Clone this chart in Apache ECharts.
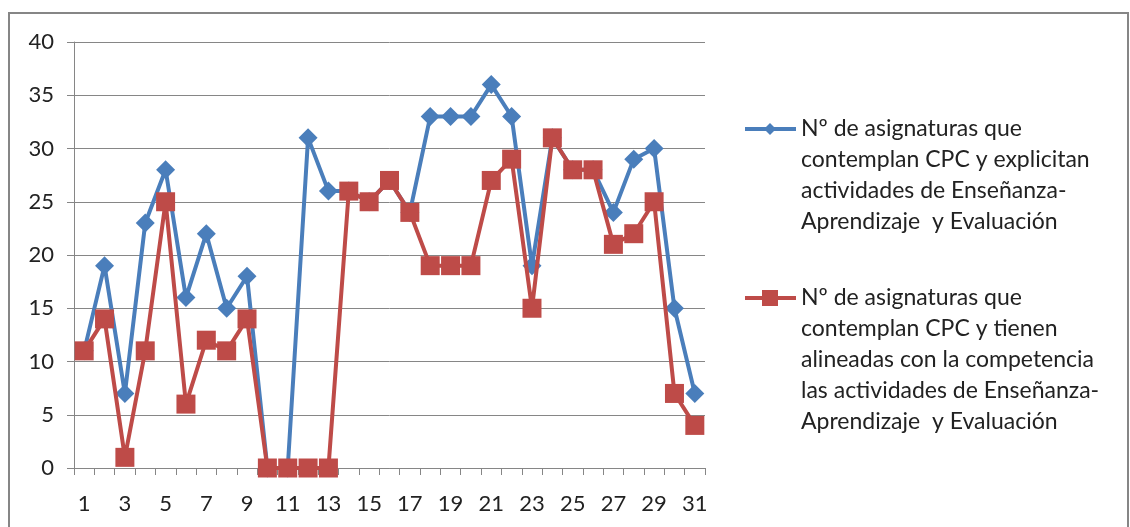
<!DOCTYPE html>
<html>
<head>
<meta charset="utf-8">
<style>
  html, body { margin: 0; padding: 0; background: #fff; }
  #chart { width: 1130px; height: 527px; }
</style>
<script src="https://cdn.jsdelivr.net/npm/echarts@6/dist/echarts.min.js"></script>
</head>
<body>
<div id="chart"></div>
<script>
// Course numbers along the horizontal axis
const categories = Array.from({ length: 31 }, (_, i) => String(i + 1));

// Series names (legend text, wrapped as shown)
const nameExplicit = 'Nº de asignaturas que\ncontemplan CPC y explicitan\nactividades de Enseñanza-\nAprendizaje  y Evaluación';
const nameAligned = 'Nº de asignaturas que\ncontemplan CPC y tienen\nalineadas con la competencia\nlas actividades de Enseñanza-\nAprendizaje  y Evaluación';

// Values per course
const explicitValues = [11, 19, 7, 23, 28, 16, 22, 15, 18, 0, 0, 31, 26, 26, 25, 27, 24, 33, 33, 33, 36, 33, 19, 31, 28, 28, 24, 29, 30, 15, 7];
const alignedValues  = [11, 14, 1, 11, 25, 6, 12, 11, 14, 0, 0, 0, 0, 26, 25, 27, 24, 19, 19, 19, 27, 29, 15, 31, 28, 28, 21, 22, 25, 7, 4];

const BLUE = '#4A7EBB';
const RED = '#BE4B48';
const GRAY = '#868686';
const FONT = 'Lato';

const chart = echarts.init(document.getElementById('chart'), null, { renderer: 'canvas' });

// Legend drawn as graphic entries so the key sits beside the first text line
function legendEntry(midY, color, symbol, text) {
  return [
    { type: 'line', shape: { x1: 745, y1: midY, x2: 796, y2: midY }, style: { stroke: color, lineWidth: 4 } },
    symbol === 'diamond'
      ? { type: 'polygon', shape: { points: [[770, midY - 6], [776, midY], [770, midY + 6], [764, midY]] }, style: { fill: color } }
      : { type: 'rect', shape: { x: 762, y: midY - 8, width: 16, height: 16 }, style: { fill: color } },
    { type: 'text', x: 801, y: midY - 15.5, style: { text: text, font: '23px ' + FONT, fill: '#222', lineHeight: 31, verticalAlign: 'top', textAlign: 'left' } }
  ];
}

chart.setOption({
  animation: false,
  backgroundColor: '#fff',
  grid: { left: 74, right: 425, top: 42, bottom: 59, containLabel: false },
  xAxis: {
    type: 'category',
    data: categories,
    boundaryGap: true,
    axisLine: { show: true, lineStyle: { color: GRAY, width: 1 } },
    axisTick: { show: true, interval: 0, alignWithLabel: false, length: 7, lineStyle: { color: GRAY } },
    axisLabel: { interval: 1, margin: 25, color: '#222', fontFamily: FONT, fontSize: 22 },
    splitLine: { show: false }
  },
  yAxis: {
    type: 'value',
    min: 0, max: 40, interval: 5,
    axisLine: { show: true, lineStyle: { color: GRAY, width: 1 } },
    axisTick: { show: true, length: 7, lineStyle: { color: GRAY } },
    axisLabel: { margin: 20, color: '#222', fontFamily: FONT, fontSize: 22 },
    splitLine: { show: true, lineStyle: { color: GRAY, width: 1 } }
  },
  series: [
    {
      name: nameExplicit,
      type: 'line',
      data: explicitValues,
      symbol: 'diamond',
      symbolSize: 19,
      showAllSymbol: true,
      lineStyle: { color: BLUE, width: 4 },
      itemStyle: { color: BLUE },
      z: 2
    },
    {
      name: nameAligned,
      type: 'line',
      data: alignedValues,
      symbol: 'rect',
      symbolSize: 19,
      showAllSymbol: true,
      lineStyle: { color: RED, width: 4 },
      itemStyle: { color: RED },
      z: 3
    }
  ],
  graphic: [
    { type: 'rect', shape: { x: 9, y: 13, width: 1119, height: 530 }, style: { fill: null, stroke: GRAY, lineWidth: 2 }, silent: true },
    { type: 'group', children: legendEntry(129, BLUE, 'diamond', nameExplicit) },
    { type: 'group', children: legendEntry(298, RED, 'rect', nameAligned) }
  ]
});
</script>
</body>
</html>
